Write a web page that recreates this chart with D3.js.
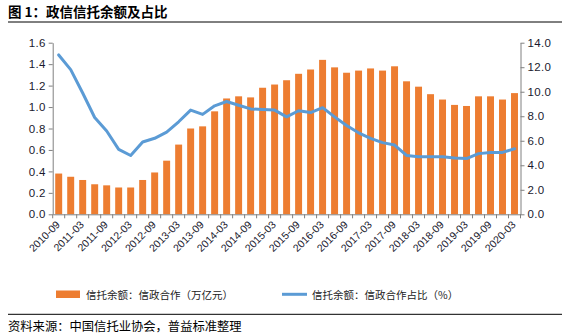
<!DOCTYPE html>
<html><head><meta charset="utf-8">
<script src="https://cdn.jsdelivr.net/npm/d3@7"></script>
<style>body{margin:0;background:#fff}svg{display:block}</style>
</head><body><svg id="c" width="579" height="336"></svg>
<script>
const categories = ["2010-09","2010-12","2011-03","2011-06","2011-09","2011-12","2012-03","2012-06","2012-09","2012-12","2013-03","2013-06","2013-09","2013-12","2014-03","2014-06","2014-09","2014-12","2015-03","2015-06","2015-09","2015-12","2016-03","2016-06","2016-09","2016-12","2017-03","2017-06","2017-09","2017-12","2018-03","2018-06","2018-09","2018-12","2019-03","2019-06","2019-09","2019-12","2020-03"];
const balance = [0.38,0.35,0.32,0.28,0.27,0.25,0.25,0.32,0.39,0.50,0.65,0.80,0.82,0.96,1.08,1.10,1.09,1.18,1.21,1.25,1.31,1.35,1.44,1.37,1.32,1.34,1.36,1.34,1.38,1.24,1.19,1.12,1.07,1.02,1.01,1.10,1.10,1.07,1.13];
const share = [13.0,11.8,9.9,7.9,6.8,5.3,4.8,5.9,6.2,6.7,7.55,8.5,8.15,8.85,9.2,8.9,8.6,8.55,8.5,7.95,8.45,8.3,8.7,7.95,7.25,6.65,6.2,5.85,5.65,4.8,4.7,4.7,4.7,4.6,4.55,4.95,5.05,5.05,5.35];
const leftTicks = [0,0.2,0.4,0.6,0.8,1.0,1.2,1.4,1.6];
const rightTicks = [0,2,4,6,8,10,12,14];
const title = "图 1：政信信托余额及占比";
const legendBar = "信托余额：信政合作（万亿元）";
const legendLine = "信托余额：信政合作占比（%）";
const source = "资料来源：中国信托业协会，普益标准整理";

const svg = d3.select("#c");
const L = 52.7, R = 520.5, T = 42.7, B = 214.3;
const cjk = "'Noto Sans CJK SC','Noto Sans',sans-serif";
const axisColor = "#808080";

const x = d3.scaleBand().domain(categories).range([L, R]).paddingInner(0.42).paddingOuter(0.21);
const yL = d3.scaleLinear().domain([0, 1.6]).range([B, T]);
const yR = d3.scaleLinear().domain([0, 14]).range([B, T]);

// title & rules
svg.append("text").attr("x", 8).attr("y", 16.5).attr("font-family", cjk).attr("font-weight", "bold")
  .attr("font-size", 13.5).attr("fill", "#000").text(title);
svg.append("line").attr("x1", 8).attr("x2", 562).attr("y1", 22).attr("y2", 22).attr("stroke", "#000").attr("stroke-width", 1);
svg.append("line").attr("x1", 8).attr("x2", 562).attr("y1", 314.3).attr("y2", 314.3).attr("stroke", "#000").attr("stroke-width", 1);

// bars
svg.append("g").selectAll("rect").data(balance).join("rect")
  .attr("x", (d, i) => x(categories[i]))
  .attr("width", x.bandwidth())
  .attr("y", d => yL(d))
  .attr("height", d => B - yL(d))
  .attr("fill", "#ED7D31");

// line
const line = d3.line().x((d, i) => x(categories[i]) + x.bandwidth() / 2).y(d => yR(d));
svg.append("path").datum(share).attr("d", line).attr("fill", "none")
  .attr("stroke", "#5B9BD5").attr("stroke-width", 3).attr("stroke-linejoin", "round").attr("stroke-linecap", "round");

function fmt1(v){ return v.toFixed(1); }

// left axis
const gl = svg.append("g").attr("transform", `translate(${L},0)`)
  .call(d3.axisLeft(yL).tickValues(leftTicks).tickFormat(fmt1).tickSize(4).tickSizeOuter(0));
// right axis
const gr = svg.append("g").attr("transform", `translate(${R},0)`)
  .call(d3.axisRight(yR).tickValues(rightTicks).tickFormat(fmt1).tickSize(4).tickSizeOuter(0));
[gl, gr].forEach(g => {
  g.select(".domain").attr("stroke", axisColor);
  g.selectAll(".tick line").attr("stroke", axisColor);
  g.selectAll("text").attr("font-family", "'Liberation Sans',Arial,sans-serif").attr("font-size", 11.5).attr("fill", "#1a1a2e").attr("letter-spacing", 0.3);
});

// x axis
const gx = svg.append("g").attr("transform", `translate(0,${B})`)
  .call(d3.axisBottom(x).tickValues([]).tickSizeOuter(0));
gx.select(".domain").attr("stroke", axisColor);
const bounds = categories.map((c, i) => x(c) - x.step() * x.paddingInner() / 2);
bounds.push(R);
gx.selectAll(".bt").data(bounds).join("line").attr("class", "bt")
  .attr("x1", d => d).attr("x2", d => d).attr("y1", 0).attr("y2", 4).attr("stroke", axisColor);
gx.selectAll(".xl").data(categories.filter((c, i) => i % 2 === 0)).join("text").attr("class", "xl")
  .attr("transform", d => `translate(${x(d) + x.bandwidth() / 2 + 2},${11}) rotate(-45)`)
  .attr("text-anchor", "end").attr("font-family", "'Liberation Sans',Arial,sans-serif")
  .attr("font-size", 10.5).attr("fill", "#1a1a2e").text(d => d);

// legend
svg.append("rect").attr("x", 56).attr("y", 290.5).attr("width", 24).attr("height", 7.5).attr("fill", "#ED7D31");
svg.append("text").attr("x", 86).attr("y", 298.5).attr("font-family", cjk).attr("font-size", 10.5).attr("fill", "#222").text(legendBar);
svg.append("line").attr("x1", 282).attr("x2", 307).attr("y1", 294.3).attr("y2", 294.3).attr("stroke", "#5B9BD5").attr("stroke-width", 3);
svg.append("text").attr("x", 312).attr("y", 298.5).attr("font-family", cjk).attr("font-size", 10.5).attr("fill", "#222").text(legendLine);

// source
svg.append("text").attr("x", 8).attr("y", 330.5).attr("font-family", cjk).attr("font-size", 12.3).attr("fill", "#000").text(source);
</script></body></html>
